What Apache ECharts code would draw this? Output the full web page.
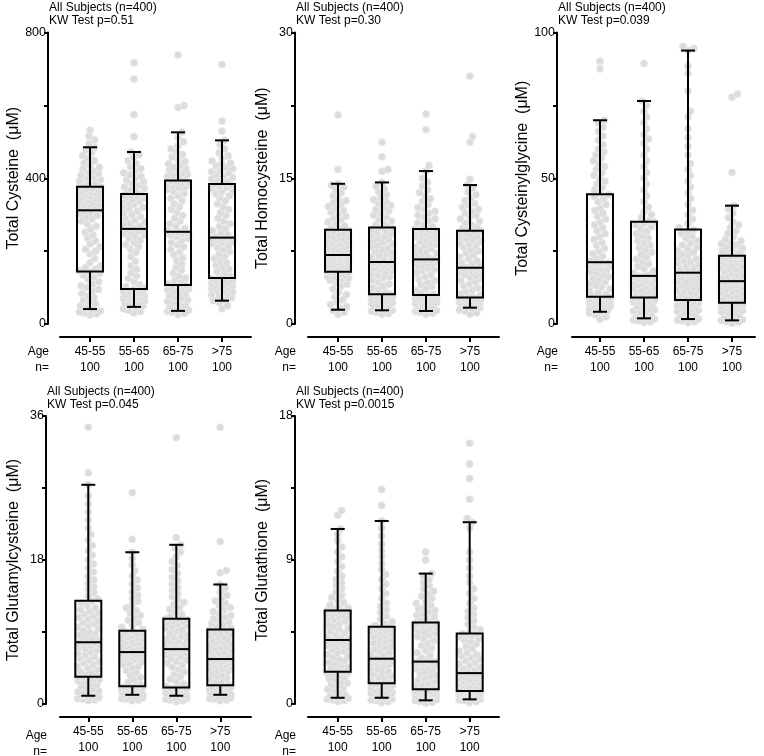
<!DOCTYPE html>
<html><head><meta charset="utf-8">
<script src="https://cdn.jsdelivr.net/npm/echarts@6/dist/echarts.min.js"></script>
<style>html,body{margin:0;padding:0;background:#fff}#c{width:764px;height:756px}</style>
</head><body><div id="c"></div>
<script>
const categories = ['45-55', '55-65', '65-75', '>75'];
const counts = [100, 100, 100, 100];
const yTitles = ['Total Cysteine  (\u03bcM)', 'Total Homocysteine  (\u03bcM)', 'Total Cysteinylglycine  (\u03bcM)', 'Total Glutamylcysteine  (\u03bcM)', 'Total Glutathione  (\u03bcM)'];
const subjectsLine = 'All Subjects (n=400)';
const pValues = ['0.51', '0.30', '0.039', '0.045', '0.0015'];
const yMaxes = [800, 30, 100, 36, 18];

// box stats: [whisker low, Q1, median, Q3, whisker high]
const cysteineBox = [[41,144,312,377,485],[47,96,261,357,472],[36,107,253,394,526],[64,126,237,384,504]];
const homocysteineBox = [[1.47,5.38,7.10,9.70,14.43],[1.41,3.05,6.38,9.94,14.57],[1.34,2.98,6.65,9.77,15.74],[1.68,2.74,5.79,9.60,14.30]];
const cysteinylglycineBox = [[4.2,9.35,21.2,44.5,69.9],[1.94,9.1,16.5,35.1,76.5],[1.7,8.2,17.6,32.4,93.8],[1.25,7.3,14.7,23.4,40.6]];
const glutamylcysteineBox = [[1.03,3.41,7.72,12.9,27.4],[1.15,2.22,6.49,9.15,18.97],[1.03,2.05,6.86,10.67,19.9],[1.15,2.34,5.62,9.32,14.94]];
const glutathioneBox = [[0.39,2.01,4.0,5.85,10.94],[0.39,1.29,2.83,4.83,11.44],[0.23,0.92,2.65,5.09,8.15],[0.29,0.82,1.93,4.41,11.36]];

// individual subject values per age group
const cysteine = [
 [25,28,30,33,36,40,45,50,55,60,66,72,78,84,90,95,100,105,110,116,122,128,134,138,142,
  146,150,155,160,168,180,192,200,205,212,220,228,236,244,252,260,268,275,282,288,294,298,302,306,310,
  314,317,320,323,326,329,332,335,338,341,344,347,350,353,356,358,360,362,364,366,368,370,372,374,376,
  380,384,388,392,396,400,404,408,412,416,420,425,430,436,442,448,455,462,470,478,485,495,505,515,532],
 [30,34,38,42,46,50,54,57,60,63,66,68,70,72,74,76,78,80,82,84,86,88,90,92,95,
  98,102,108,116,124,132,140,150,160,172,185,196,205,212,218,224,230,235,240,244,248,252,255,258,260,
  263,268,272,276,280,285,290,295,300,305,310,315,320,324,328,332,336,340,343,346,349,351,353,355,357,
  360,364,368,372,376,380,385,390,395,400,405,410,415,420,426,432,440,448,456,465,472,514,575,672,717],
 [26,29,32,35,38,41,44,47,50,54,58,62,66,70,74,78,82,86,90,94,97,100,102,104,106,
  110,115,120,126,132,140,148,156,165,174,182,190,198,205,212,218,224,230,235,240,244,247,249,251,252,
  256,262,268,275,282,290,298,306,314,322,330,338,345,352,358,364,369,373,377,380,383,386,389,391,393,
  396,402,405,408,411,414,418,422,426,430,435,440,446,452,458,465,472,480,490,500,512,526,594,600,738],
 [42,50,58,64,68,72,76,80,84,88,92,95,98,100,102,104,106,108,110,112,114,116,118,121,124,
  128,132,138,144,150,156,162,168,174,180,186,192,198,204,210,215,220,224,227,230,232,233,234,235,236,
  240,245,250,256,262,268,275,282,290,298,306,314,322,330,338,346,352,358,363,367,371,375,378,381,383,
  386,390,394,398,402,406,410,414,418,422,426,430,434,438,442,448,455,462,470,480,492,504,529,557,712]
];
const homocysteine = [
 [1.0,1.2,1.4,1.6,1.8,2.0,2.2,2.5,2.8,3.0,3.3,3.6,3.9,4.1,4.3,4.5,4.6,4.7,4.8,4.9,5.0,5.1,5.2,5.3,5.35,
  5.4,5.5,5.6,5.7,5.8,5.9,6.0,6.1,6.2,6.3,6.4,6.5,6.55,6.6,6.65,6.7,6.75,6.8,6.85,6.9,6.95,7.0,7.03,7.06,7.09,
  7.15,7.25,7.35,7.45,7.55,7.65,7.75,7.85,7.95,8.05,8.15,8.25,8.35,8.45,8.55,8.65,8.75,8.85,8.95,9.05,9.15,9.3,9.45,9.55,9.65,
  9.8,9.95,10.1,10.3,10.5,10.7,10.9,11.1,11.3,11.5,11.7,11.9,12.1,12.3,12.5,12.7,12.9,13.2,13.5,13.8,14.1,14.3,14.43,15.9,21.5],
 [1.0,1.1,1.2,1.3,1.4,1.5,1.6,1.7,1.8,1.9,2.0,2.1,2.2,2.3,2.4,2.5,2.55,2.6,2.65,2.7,2.75,2.8,2.88,2.95,3.0,
  3.1,3.3,3.5,3.7,3.9,4.1,4.3,4.5,4.7,4.85,5.0,5.15,5.3,5.45,5.6,5.7,5.8,5.9,6.0,6.1,6.15,6.2,6.25,6.3,6.35,
  6.45,6.6,6.75,6.9,7.05,7.2,7.35,7.5,7.65,7.8,7.95,8.1,8.25,8.4,8.55,8.7,8.85,9.0,9.15,9.3,9.45,9.6,9.72,9.83,9.92,
  10.05,10.2,10.4,10.6,10.8,11.0,11.2,11.4,11.6,11.8,12.0,12.2,12.4,12.6,12.8,13.0,13.3,13.6,13.9,14.2,14.57,15.7,15.9,17.2,18.7],
 [1.0,1.1,1.2,1.3,1.4,1.5,1.6,1.7,1.8,1.9,2.0,2.1,2.2,2.3,2.4,2.45,2.5,2.55,2.6,2.65,2.7,2.75,2.8,2.88,2.95,
  3.05,3.25,3.45,3.65,3.85,4.05,4.25,4.45,4.65,4.85,5.05,5.25,5.45,5.6,5.75,5.9,6.0,6.1,6.2,6.3,6.4,6.48,6.54,6.6,6.63,
  6.7,6.85,7.0,7.15,7.3,7.45,7.6,7.75,7.9,8.05,8.2,8.35,8.5,8.65,8.8,8.95,9.05,9.15,9.25,9.35,9.45,9.55,9.62,9.68,9.75,
  9.85,10.0,10.2,10.4,10.6,10.8,11.0,11.2,11.4,11.6,11.8,12.0,12.3,12.6,12.9,13.2,13.5,13.8,14.2,14.6,15.0,15.74,16.3,20.0,21.6],
 [1.0,1.15,1.3,1.45,1.6,1.7,1.8,1.9,2.0,2.05,2.1,2.15,2.2,2.25,2.3,2.35,2.4,2.45,2.5,2.55,2.6,2.63,2.66,2.69,2.72,
  2.8,2.95,3.1,3.3,3.5,3.7,3.9,4.1,4.3,4.5,4.65,4.8,4.95,5.1,5.2,5.3,5.4,5.48,5.54,5.6,5.65,5.7,5.73,5.76,5.78,
  5.85,6.0,6.15,6.3,6.5,6.7,6.9,7.1,7.3,7.5,7.7,7.9,8.05,8.2,8.35,8.5,8.65,8.8,8.95,9.1,9.2,9.3,9.4,9.5,9.58,
  9.7,9.85,10.0,10.2,10.4,10.6,10.8,11.0,11.2,11.4,11.6,11.8,12.0,12.2,12.4,12.7,13.0,13.3,13.6,14.0,14.3,14.9,18.7,19.3,25.5]
];
const cysteinylglycine = [
 [1.6,2.5,3.2,3.8,4.2,4.6,5.0,5.3,5.6,5.9,6.2,6.5,6.8,7.0,7.2,7.4,7.6,7.8,8.0,8.2,8.4,8.6,8.8,9.0,9.2,
  9.6,10.2,10.8,11.4,12.0,12.6,13.2,13.8,14.4,15.0,15.6,16.2,16.8,17.4,18.0,18.5,19.0,19.4,19.8,20.2,20.5,20.7,20.9,21.0,21.1,
  21.5,22.3,23.2,24.1,25.0,26.0,27.0,28.0,29.0,30.0,31.0,32.0,33.0,34.0,35.0,36.0,37.0,38.0,39.0,40.0,41.0,42.0,43.0,43.8,44.4,
  45.0,46.0,47.0,48.0,49.0,50.0,51.0,52.0,53.0,54.0,55.0,56.0,57.0,58.0,59.0,60.0,61.5,63.0,64.5,66.0,67.5,69.0,69.9,87.5,90.1],
 [0.5,0.8,1.1,1.4,1.7,2.0,2.4,2.8,3.2,3.6,4.0,4.4,4.8,5.2,5.6,6.0,6.4,6.8,7.2,7.5,7.8,8.1,8.4,8.7,9.0,
  9.3,9.7,10.1,10.5,10.9,11.3,11.7,12.1,12.5,12.9,13.3,13.7,14.1,14.5,14.8,15.1,15.4,15.6,15.8,16.0,16.1,16.2,16.3,16.4,16.45,
  16.8,17.5,18.2,19.0,19.8,20.6,21.4,22.2,23.0,23.8,24.6,25.4,26.2,27.0,27.8,28.6,29.4,30.2,31.0,31.8,32.6,33.4,34.0,34.5,35.0,
  35.5,36.5,37.5,38.5,40.0,42.0,44.0,46.0,48.0,50.0,52.0,54.0,56.0,58.0,60.0,62.0,63.5,65.0,67.0,69.0,71.0,73.0,75.0,76.5,89.4],
 [0.5,0.8,1.1,1.4,1.7,2.0,2.4,2.8,3.2,3.6,4.0,4.4,4.8,5.1,5.4,5.7,6.0,6.3,6.6,6.9,7.2,7.5,7.7,7.9,8.1,
  8.4,8.8,9.2,9.6,10.0,10.4,10.8,11.2,11.6,12.0,12.4,12.8,13.2,13.6,14.0,14.4,14.8,15.2,15.6,16.0,16.4,16.8,17.1,17.3,17.5,
  17.8,18.3,18.8,19.3,19.8,20.3,20.8,21.3,21.8,22.3,22.8,23.4,24.0,24.6,25.2,25.8,26.4,27.0,27.8,28.6,29.4,30.2,31.0,31.7,32.3,
  33.0,34.5,36.0,37.5,39.0,41.0,43.0,45.0,47.0,49.0,51.0,53.0,55.0,58.0,61.0,64.0,67.0,71.0,73.0,80.0,86.0,88.5,93.8,94.5,95.2],
 [0.3,0.6,0.9,1.2,1.5,1.8,2.2,2.6,3.0,3.4,3.8,4.2,4.6,5.0,5.3,5.6,5.9,6.1,6.3,6.5,6.7,6.9,7.0,7.1,7.2,
  7.5,7.9,8.3,8.7,9.1,9.5,9.9,10.3,10.7,11.1,11.5,11.9,12.3,12.6,12.9,13.2,13.5,13.8,14.0,14.2,14.3,14.4,14.5,14.6,14.65,
  15.0,15.4,15.8,16.2,16.6,17.0,17.4,17.8,18.2,18.6,19.0,19.4,19.8,20.2,20.6,21.0,21.4,21.8,22.1,22.4,22.7,22.9,23.1,23.2,23.3,
  23.6,24.0,24.5,25.0,25.5,26.0,26.5,27.0,27.5,28.0,28.5,29.0,30.0,31.0,32.0,33.0,34.0,35.0,36.5,38.0,39.5,40.6,52.0,77.8,78.9]
];
const glutamylcysteine = [
 [0.4,0.5,0.6,0.7,0.8,0.9,1.0,1.1,1.2,1.3,1.4,1.5,1.6,1.8,2.0,2.2,2.4,2.6,2.8,2.9,3.0,3.1,3.2,3.3,3.38,
  3.5,3.7,3.9,4.1,4.3,4.5,4.7,4.9,5.1,5.3,5.5,5.7,5.9,6.1,6.3,6.5,6.7,6.9,7.1,7.3,7.4,7.5,7.6,7.65,7.7,
  7.8,8.0,8.2,8.4,8.6,8.8,9.0,9.2,9.4,9.6,9.8,10.0,10.2,10.4,10.6,10.8,11.0,11.2,11.4,11.6,11.8,12.0,12.3,12.6,12.85,
  13.1,13.5,13.9,14.3,14.7,15.1,15.5,16.0,16.5,17.0,17.5,18.0,18.6,19.2,19.8,20.5,21.2,22.0,23.0,24.0,25.0,26.0,27.4,28.9,34.6],
 [0.4,0.5,0.6,0.7,0.8,0.9,1.0,1.1,1.15,1.2,1.3,1.4,1.5,1.6,1.7,1.75,1.8,1.85,1.9,1.95,2.0,2.05,2.1,2.15,2.2,
  2.4,2.7,3.0,3.3,3.6,3.9,4.2,4.5,4.7,4.9,5.1,5.3,5.5,5.6,5.7,5.8,5.9,6.0,6.1,6.2,6.25,6.3,6.35,6.4,6.45,
  6.55,6.65,6.75,6.85,6.95,7.05,7.15,7.25,7.35,7.45,7.55,7.65,7.75,7.85,7.95,8.05,8.2,8.35,8.5,8.6,8.7,8.8,8.9,9.0,9.1,
  9.3,9.6,9.9,10.2,10.5,10.8,11.1,11.4,11.7,12.0,12.4,12.8,13.2,13.6,14.0,14.5,15.0,15.5,16.0,16.7,17.4,18.2,18.97,20.6,26.4],
 [0.3,0.4,0.5,0.6,0.7,0.8,0.9,1.0,1.05,1.1,1.2,1.3,1.4,1.5,1.55,1.6,1.65,1.7,1.75,1.8,1.85,1.9,1.95,2.0,2.03,
  2.2,2.5,2.8,3.1,3.4,3.7,4.0,4.3,4.6,4.9,5.1,5.3,5.5,5.7,5.9,6.1,6.3,6.4,6.5,6.6,6.65,6.7,6.75,6.8,6.84,
  6.95,7.1,7.25,7.4,7.55,7.7,7.85,8.0,8.15,8.3,8.5,8.7,8.9,9.1,9.3,9.5,9.7,9.85,10.0,10.15,10.3,10.4,10.5,10.58,10.65,
  10.9,11.2,11.5,11.8,12.1,12.4,12.7,13.0,13.4,13.8,14.2,14.6,15.0,15.4,15.8,16.3,16.8,17.3,17.8,18.4,19.0,19.5,19.9,20.8,33.3],
 [0.4,0.5,0.6,0.7,0.8,0.9,1.0,1.1,1.15,1.2,1.3,1.4,1.5,1.6,1.7,1.8,1.85,1.9,1.95,2.0,2.05,2.1,2.2,2.25,2.3,
  2.45,2.65,2.85,3.05,3.25,3.45,3.65,3.85,4.05,4.2,4.35,4.5,4.65,4.8,4.9,5.0,5.1,5.2,5.3,5.38,5.44,5.5,5.54,5.58,5.6,
  5.7,5.85,6.0,6.15,6.3,6.45,6.6,6.75,6.9,7.05,7.2,7.35,7.5,7.65,7.8,7.95,8.1,8.25,8.4,8.55,8.7,8.85,9.0,9.15,9.28,
  9.45,9.65,9.85,10.05,10.25,10.45,10.65,10.85,11.05,11.3,11.55,11.8,12.05,12.3,12.6,12.9,13.2,13.6,14.0,14.5,14.94,16.4,16.7,20.3,34.6]
];
const glutathione = [
 [0.15,0.2,0.25,0.3,0.35,0.4,0.45,0.5,0.6,0.7,0.8,0.9,1.0,1.1,1.2,1.3,1.4,1.5,1.6,1.7,1.8,1.85,1.9,1.95,2.0,
  2.1,2.2,2.3,2.4,2.5,2.6,2.7,2.8,2.9,3.0,3.1,3.2,3.3,3.4,3.5,3.6,3.65,3.7,3.75,3.8,3.85,3.9,3.93,3.96,3.99,
  4.05,4.15,4.25,4.35,4.45,4.55,4.65,4.75,4.85,4.95,5.05,5.15,5.25,5.35,5.45,5.5,5.55,5.6,5.65,5.7,5.74,5.77,5.8,5.82,5.84,
  5.9,6.0,6.1,6.2,6.35,6.5,6.65,6.8,7.0,7.2,7.4,7.6,7.8,8.0,8.3,8.6,8.9,9.2,9.5,9.8,10.2,10.6,10.94,11.8,12.1],
 [0.1,0.15,0.2,0.25,0.3,0.35,0.4,0.45,0.5,0.55,0.6,0.65,0.7,0.75,0.8,0.85,0.9,0.95,1.0,1.05,1.1,1.15,1.2,1.24,1.28,
  1.35,1.45,1.55,1.65,1.75,1.85,1.95,2.05,2.15,2.25,2.35,2.45,2.5,2.55,2.6,2.65,2.68,2.7,2.72,2.74,2.76,2.78,2.8,2.81,2.82,
  2.9,3.0,3.1,3.2,3.3,3.4,3.5,3.6,3.7,3.8,3.9,4.0,4.1,4.2,4.3,4.4,4.5,4.55,4.6,4.65,4.7,4.74,4.77,4.8,4.82,
  4.9,5.0,5.15,5.3,5.5,5.7,5.9,6.1,6.3,6.6,6.9,7.2,7.5,7.8,8.1,8.4,8.8,9.2,9.6,10.0,10.5,11.0,11.44,12.4,13.4],
 [0.05,0.1,0.15,0.2,0.25,0.3,0.35,0.4,0.45,0.5,0.52,0.55,0.58,0.6,0.63,0.66,0.69,0.72,0.75,0.78,0.81,0.84,0.87,0.89,0.91,
  1.0,1.1,1.2,1.3,1.4,1.5,1.6,1.7,1.8,1.9,2.0,2.1,2.2,2.28,2.35,2.4,2.45,2.5,2.53,2.56,2.58,2.6,2.62,2.63,2.64,
  2.75,2.9,3.05,3.2,3.35,3.5,3.65,3.8,3.95,4.1,4.2,4.3,4.4,4.5,4.6,4.7,4.78,4.85,4.9,4.95,4.99,5.02,5.05,5.07,5.08,
  5.15,5.25,5.35,5.45,5.55,5.65,5.75,5.85,5.95,6.05,6.15,6.3,6.45,6.6,6.75,6.9,7.05,7.2,7.4,7.6,7.8,8.0,8.15,9.0,9.5],
 [0.1,0.15,0.2,0.25,0.3,0.35,0.4,0.43,0.46,0.49,0.52,0.55,0.58,0.6,0.62,0.64,0.66,0.68,0.7,0.72,0.74,0.76,0.78,0.8,0.81,
  0.87,0.93,0.99,1.05,1.1,1.15,1.2,1.25,1.3,1.35,1.4,1.45,1.5,1.55,1.6,1.65,1.7,1.74,1.78,1.82,1.85,1.88,1.9,1.91,1.92,
  2.0,2.1,2.2,2.3,2.4,2.5,2.6,2.7,2.8,2.9,3.0,3.1,3.2,3.3,3.45,3.6,3.75,3.9,4.0,4.1,4.2,4.27,4.33,4.37,4.4,
  4.5,4.65,4.8,5.0,5.2,5.4,5.6,5.8,6.0,6.3,6.6,6.9,7.2,7.6,8.0,8.5,9.0,9.5,11.0,11.36,11.6,12.8,14.1,15.0,16.3]
];

const valueSets = [cysteine, homocysteine, cysteinylglycine, glutamylcysteine, glutathione];
const boxSets = [cysteineBox, homocysteineBox, cysteinylglycineBox, glutamylcysteineBox, glutathioneBox];

// layout (pixels)
const layouts = [
  {left: 60, top: 32.5, width: 191, height: 291.5, xMin: -0.682, yOff: 12, xOff: 13},
  {left: 308, top: 32.5, width: 191, height: 291.5, xMin: -0.682, yOff: 13, xOff: 13},
  {left: 572, top: 32.5, width: 183, height: 291.5, xMin: -0.636, yOff: 15, xOff: 13},
  {left: 60, top: 416, width: 191, height: 292, xMin: -0.643, yOff: 14, xOff: 13},
  {left: 308, top: 416, width: 191, height: 292, xMin: -0.675, yOff: 13, xOff: 13}
];
const PX_PER_CAT = 44;
const FONT = 'Liberation Sans, Arial, Helvetica, sans-serif';

function swarm(values, pxPerY, d, maxW) {
  const order = values.map((v, i) => i).sort((a, b) => values[a] - values[b]);
  const placed = [];
  const out = new Array(values.length).fill(0);
  for (const i of order) {
    const y = values[i] * pxPerY;
    let chosen = null, bestX = 0, bestD = -1;
    for (let k = 0; k <= Math.round(4 * maxW); k++) {
      const step = Math.ceil(k / 2) * 0.5;
      const x = (k % 2) ? step : -step;
      let md = Infinity;
      for (const p of placed) {
        if (Math.abs(p.y - y) >= d) continue;
        const dd = Math.hypot(p.x - x, p.y - y);
        if (dd < md) md = dd;
      }
      if (md >= d) { chosen = x; break; }
      if (md > bestD) { bestD = md; bestX = x; }
    }
    if (chosen === null) chosen = bestX;
    placed.push({x: chosen, y});
    out[i] = chosen;
  }
  return out;
}

const grids = [], xAxes = [], yAxes = [], series = [], titles = [], graphics = [];
layouts.forEach((L, p) => {
  const yMax = yMaxes[p];
  const xMax = L.xMin + L.width / PX_PER_CAT;
  grids.push({left: L.left, top: L.top, width: L.width, height: L.height, containLabel: false});
  xAxes.push({
    gridIndex: p, type: 'value', min: L.xMin, max: xMax, offset: L.xOff,
    splitLine: {show: false},
    axisLine: {show: true, onZero: false, lineStyle: {color: '#000', width: 2}},
    axisTick: {show: true, inside: false, length: 5, customValues: [0, 1, 2, 3], lineStyle: {color: '#000', width: 2}},
    axisLabel: {show: true, customValues: [0, 1, 2, 3], margin: 7, color: '#000', fontFamily: FONT, fontSize: 12, lineHeight: 16,
      formatter: v => { const i = Math.round(v); return categories[i] + '\n' + counts[i]; }}
  });
  yAxes.push({
    gridIndex: p, type: 'value', min: 0, max: yMax, interval: yMax / 4, offset: L.yOff,
    name: yTitles[p], nameLocation: 'middle', nameGap: 24, nameRotate: 90,
    nameTextStyle: {color: '#000', fontFamily: FONT, fontSize: 16},
    splitLine: {show: false},
    axisLine: {show: true, onZero: false, lineStyle: {color: '#000', width: 2}},
    axisTick: {show: true, inside: false, length: 4, lineStyle: {color: '#000', width: 2}},
    axisLabel: {color: '#000', fontFamily: FONT, fontSize: 12.5, margin: 2,
      formatter: v => { const r = v / (yMax / 2); return Math.abs(r - Math.round(r)) < 1e-6 ? String(v) : ''; }}
  });
  const pxPerY = L.height / yMax;
  const pts = [];
  valueSets[p].forEach((vals, g) => {
    const offs = swarm(vals, pxPerY, 6.2, 10.5);
    vals.forEach((v, k) => pts.push([g + offs[k] / PX_PER_CAT, v]));
  });
  series.push({
    type: 'scatter', xAxisIndex: p, yAxisIndex: p, data: pts, symbolSize: 7.5, silent: true, z: 1,
    itemStyle: {color: '#dcdcdc', opacity: 1, borderColor: '#f2f2f2', borderWidth: 0.5}
  });
  series.push({
    type: 'custom', xAxisIndex: p, yAxisIndex: p, z: 5, silent: true,
    data: boxSets[p].map((b, g) => [g, ...b]),
    encode: {x: 0, y: [1, 2, 3, 4, 5]},
    renderItem: (params, api) => {
      const x = api.value(0);
      const c = k => api.coord([x, api.value(k)]);
      const lo = c(1), q1 = c(2), md = c(3), q3 = c(4), hi = c(5);
      const cx = lo[0], hw = 13, cw = 7;
      const st = {stroke: '#000', lineWidth: 2, fill: 'none'};
      return {type: 'group', children: [
        {type: 'line', shape: {x1: cx, y1: hi[1], x2: cx, y2: q3[1]}, style: st},
        {type: 'line', shape: {x1: cx, y1: q1[1], x2: cx, y2: lo[1]}, style: st},
        {type: 'line', shape: {x1: cx - cw, y1: hi[1], x2: cx + cw, y2: hi[1]}, style: st},
        {type: 'line', shape: {x1: cx - cw, y1: lo[1], x2: cx + cw, y2: lo[1]}, style: st},
        {type: 'rect', shape: {x: cx - hw, y: q3[1], width: 2 * hw, height: q1[1] - q3[1]}, style: st},
        {type: 'line', shape: {x1: cx - hw, y1: md[1], x2: cx + hw, y2: md[1]}, style: st}
      ]};
    }
  });
  const axisX = L.left - L.yOff;
  titles.push({
    text: subjectsLine + '\nKW Test p=' + pValues[p], left: axisX + 1, top: L.top - 31, padding: 0,
    textStyle: {color: '#000', fontFamily: FONT, fontSize: 12, fontWeight: 'normal', lineHeight: 13}
  });
  graphics.push({
    type: 'text', x: axisX + 1, y: L.top + L.height + L.xOff + 7, silent: true,
    style: {text: 'Age\nn=', align: 'right', verticalAlign: 'top', fill: '#000', font: '12px ' + FONT, lineHeight: 16}
  });
});

const chart = echarts.init(document.getElementById('c'), null, {renderer: 'canvas'});
chart.setOption({
  animation: false, backgroundColor: '#fff',
  title: titles, grid: grids, xAxis: xAxes, yAxis: yAxes, series: series,
  graphic: {elements: graphics}
});
</script></body></html>
